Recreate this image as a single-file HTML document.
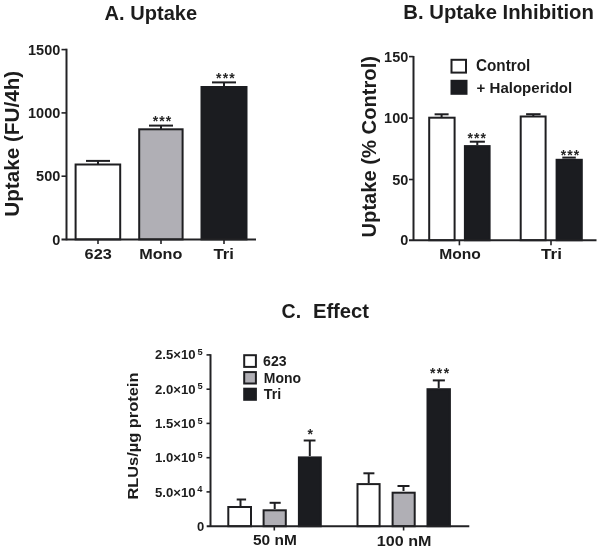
<!DOCTYPE html>
<html><head><meta charset="utf-8">
<style>
html,body{margin:0;padding:0;background:#fff;}
body{width:602px;height:549px;overflow:hidden;}
svg{display:block;}
text{font-family:"Liberation Sans",sans-serif;font-weight:bold;fill:#1c1c1f;filter:grayscale(1);}
.ax{stroke:#222225;stroke-width:2;fill:none;}
.tk{stroke:#222225;stroke-width:1.6;fill:none;}
.bw{fill:#fff;stroke:#1e1e21;stroke-width:2;}
.bg{fill:#b0afb5;stroke:#1e1e21;stroke-width:2;}
.bk{fill:#1b1c20;stroke:#1b1c20;stroke-width:2;}
.eb{stroke:#1e1e21;stroke-width:2;fill:none;}
.st{font-size:14px;fill:#26262a;}
</style></head>
<body>
<svg width="602" height="549" viewBox="0 0 602 549">
<!-- ===== Chart A ===== -->
<text x="104.6" y="19.8" font-size="19.5" textLength="92.6" lengthAdjust="spacingAndGlyphs">A. Uptake</text>
<text transform="translate(18.9,216.8) rotate(-90)" font-size="20" textLength="146" lengthAdjust="spacingAndGlyphs">Uptake (FU/4h)</text>
<g font-size="14.5">
<text x="60.3" y="54.8" text-anchor="end">1500</text>
<text x="60.3" y="118.1" text-anchor="end">1000</text>
<text x="60.3" y="181.4" text-anchor="end">500</text>
<text x="60.3" y="244.6" text-anchor="end">0</text>
</g>
<g class="tk">
<line x1="61.5" y1="49.6" x2="66.5" y2="49.6"/>
<line x1="61.5" y1="112.9" x2="66.5" y2="112.9"/>
<line x1="61.5" y1="176.2" x2="66.5" y2="176.2"/>
<line x1="98" y1="239.4" x2="98" y2="244"/>
<line x1="161" y1="239.4" x2="161" y2="244"/>
<line x1="224" y1="239.4" x2="224" y2="244"/>
</g>
<!-- bars A -->
<rect class="bw" x="75.6" y="164.5" width="44.6" height="74.9"/>
<rect class="bg" x="139.2" y="129.3" width="43.4" height="110.1"/>
<rect class="bk" x="201.5" y="87" width="45" height="152.4"/>
<g class="eb">
<line x1="86" y1="160.9" x2="110" y2="160.9"/><line x1="98" y1="160.9" x2="98" y2="164"/>
<line x1="149" y1="125.6" x2="173" y2="125.6"/><line x1="161" y1="125.6" x2="161" y2="129"/>
<line x1="212" y1="82.4" x2="236" y2="82.4"/><line x1="224" y1="82.4" x2="224" y2="86"/>
</g>
<text class="st" x="152.7" y="126.4" textLength="18.5" lengthAdjust="spacing">***</text>
<text class="st" x="216" y="83.0" textLength="18.8" lengthAdjust="spacing">***</text>
<line class="ax" x1="66.5" y1="48.7" x2="66.5" y2="240.3"/>
<line class="ax" x1="61.5" y1="239.4" x2="256" y2="239.4"/>
<g font-size="15.5">
<text x="84.6" y="258.6" textLength="27.2" lengthAdjust="spacingAndGlyphs">623</text>
<text x="139.2" y="258.9" textLength="43.2" lengthAdjust="spacingAndGlyphs">Mono</text>
<text x="213.4" y="258.9" textLength="20.6" lengthAdjust="spacingAndGlyphs">Tri</text>
</g>

<!-- ===== Chart B ===== -->
<text x="403.3" y="18.9" font-size="20" textLength="190.6" lengthAdjust="spacingAndGlyphs">B. Uptake Inhibition</text>
<text transform="translate(375.9,237.5) rotate(-90)" font-size="19.8" textLength="181.5" lengthAdjust="spacingAndGlyphs">Uptake (% Control)</text>
<g font-size="14.5">
<text x="408.3" y="61.7" text-anchor="end">150</text>
<text x="408.3" y="123.2" text-anchor="end">100</text>
<text x="408.3" y="184.6" text-anchor="end">50</text>
<text x="408.3" y="245.3" text-anchor="end">0</text>
</g>
<g class="tk">
<line x1="409" y1="56.6" x2="413.5" y2="56.6"/>
<line x1="409" y1="118.1" x2="413.5" y2="118.1"/>
<line x1="409" y1="179.5" x2="413.5" y2="179.5"/>
<line x1="459.4" y1="240.2" x2="459.4" y2="245.3"/>
<line x1="551" y1="240.2" x2="551" y2="245.3"/>
</g>
<rect class="bw" x="429.2" y="117.7" width="25.4" height="122.5"/>
<rect class="bk" x="464.9" y="146.1" width="24.7" height="94.1"/>
<rect class="bw" x="520.7" y="116.5" width="24.9" height="123.7"/>
<rect class="bk" x="556.6" y="159.8" width="25.2" height="80.4"/>
<g class="eb">
<line x1="434.6" y1="114.3" x2="448.6" y2="114.3"/><line x1="441.6" y1="114.3" x2="441.6" y2="117"/>
<line x1="469.8" y1="141.7" x2="484.9" y2="141.7"/><line x1="477.3" y1="141.7" x2="477.3" y2="145"/>
<line x1="526.1" y1="114.2" x2="540.6" y2="114.2"/><line x1="533.3" y1="114.2" x2="533.3" y2="116"/>
<line x1="562.3" y1="157.6" x2="575.8" y2="157.6"/>
</g>
<text class="st" x="467.6" y="143.4" textLength="18.4" lengthAdjust="spacing">***</text>
<text class="st" x="560.8" y="160.0" textLength="18.4" lengthAdjust="spacing">***</text>
<line class="ax" x1="413.5" y1="56" x2="413.5" y2="241"/>
<line class="ax" x1="409" y1="240.2" x2="596.5" y2="240.2"/>
<g font-size="15.5">
<text x="439.3" y="259" textLength="41.6" lengthAdjust="spacingAndGlyphs">Mono</text>
<text x="541" y="259" textLength="21" lengthAdjust="spacingAndGlyphs">Tri</text>
</g>
<!-- legend B -->
<rect class="bw" x="451.5" y="59.8" width="14.5" height="12.8"/>
<rect class="bk" x="451.5" y="80.8" width="15" height="13"/>
<g font-size="15">
<text x="476" y="70.5" font-size="16" textLength="54.3" lengthAdjust="spacingAndGlyphs">Control</text>
<text x="476.6" y="93.4" font-size="15.5" textLength="95.6" lengthAdjust="spacingAndGlyphs">+ Haloperidol</text>
</g>

<!-- ===== Chart C ===== -->
<text x="281.6" y="318" font-size="19.5">C.</text>
<text x="312.9" y="318" font-size="19.5" textLength="56.2" lengthAdjust="spacingAndGlyphs">Effect</text>
<text transform="translate(138.4,499.6) rotate(-90)" font-size="15.5" textLength="127" lengthAdjust="spacingAndGlyphs">RLUs/µg protein</text>
<g font-size="13">
<text x="155" y="359.3" textLength="40.6" lengthAdjust="spacingAndGlyphs">2.5×10</text>
<text x="155" y="393.5" textLength="40.6" lengthAdjust="spacingAndGlyphs">2.0×10</text>
<text x="155" y="427.7" textLength="40.6" lengthAdjust="spacingAndGlyphs">1.5×10</text>
<text x="155" y="462.0" textLength="40.6" lengthAdjust="spacingAndGlyphs">1.0×10</text>
<text x="155" y="497.3" textLength="40.6" lengthAdjust="spacingAndGlyphs">5.0×10</text>
<text x="204.2" y="531" text-anchor="end">0</text>
</g>
<g font-size="9.3">
<text x="197.4" y="355.1">5</text>
<text x="197.4" y="389.3">5</text>
<text x="197.4" y="423.6">5</text>
<text x="197.4" y="457.8">5</text>
<text x="197.2" y="491.6">4</text>
</g>
<g class="tk">
<line x1="206.5" y1="354.9" x2="210.5" y2="354.9"/>
<line x1="206.5" y1="389.2" x2="210.5" y2="389.2"/>
<line x1="206.5" y1="423.4" x2="210.5" y2="423.4"/>
<line x1="206.5" y1="457.7" x2="210.5" y2="457.7"/>
<line x1="206.5" y1="491.9" x2="210.5" y2="491.9"/>
<line x1="274.3" y1="526.2" x2="274.3" y2="530.5"/>
<line x1="403.6" y1="526.2" x2="403.6" y2="530.5"/>
</g>
<rect class="bw" x="228.3" y="507" width="22.7" height="19.2"/>
<rect class="bg" x="263.6" y="510.3" width="22.2" height="15.9"/>
<rect class="bk" x="298.9" y="457.4" width="21.9" height="68.8"/>
<rect class="bw" x="357.5" y="484.1" width="22.1" height="42.1"/>
<rect class="bg" x="392.6" y="492.7" width="22.1" height="33.5"/>
<rect class="bk" x="427.5" y="389.2" width="22.4" height="137"/>
<g class="eb">
<line x1="236.7" y1="499.5" x2="246.1" y2="499.5"/><line x1="240.5" y1="499.5" x2="240.5" y2="506"/>
<line x1="269.6" y1="502.8" x2="280.7" y2="502.8"/><line x1="274.7" y1="502.8" x2="274.7" y2="509"/>
<line x1="303.7" y1="440.5" x2="315.5" y2="440.5"/><line x1="309.8" y1="440.5" x2="309.8" y2="456"/>
<line x1="363.4" y1="473.3" x2="374.4" y2="473.3"/><line x1="368.7" y1="473.3" x2="368.7" y2="483"/>
<line x1="397.5" y1="486.0" x2="409.5" y2="486.0"/><line x1="403.5" y1="486.0" x2="403.5" y2="491"/>
<line x1="432.8" y1="380.4" x2="444.9" y2="380.4"/><line x1="438.7" y1="380.4" x2="438.7" y2="388"/>
</g>
<text class="st" x="307.5" y="439.0">*</text>
<text class="st" x="429.9" y="377.8" textLength="19.2" lengthAdjust="spacing">***</text>
<line class="ax" x1="210.5" y1="354.2" x2="210.5" y2="527"/>
<line class="ax" x1="206.7" y1="526.2" x2="469.3" y2="526.2"/>
<g font-size="14">
<text x="253" y="544.6" font-size="14.5" textLength="43.8" lengthAdjust="spacingAndGlyphs">50 nM</text>
<text x="376.8" y="545.5" font-size="14.5" textLength="54.6" lengthAdjust="spacingAndGlyphs">100 nM</text>
</g>
<!-- legend C -->
<rect class="bw" x="244.2" y="355.2" width="11.7" height="11.7"/>
<rect class="bg" x="244.2" y="372.1" width="11.7" height="11.4"/>
<rect class="bk" x="244.2" y="388.7" width="11.7" height="11.1"/>
<g font-size="13.8">
<text x="263.1" y="365.7" textLength="23.5" lengthAdjust="spacingAndGlyphs">623</text>
<text x="263.8" y="382.6" textLength="37.2" lengthAdjust="spacingAndGlyphs">Mono</text>
<text x="263.8" y="398.6" textLength="17.4" lengthAdjust="spacingAndGlyphs">Tri</text>
</g>
</svg>
</body></html>
